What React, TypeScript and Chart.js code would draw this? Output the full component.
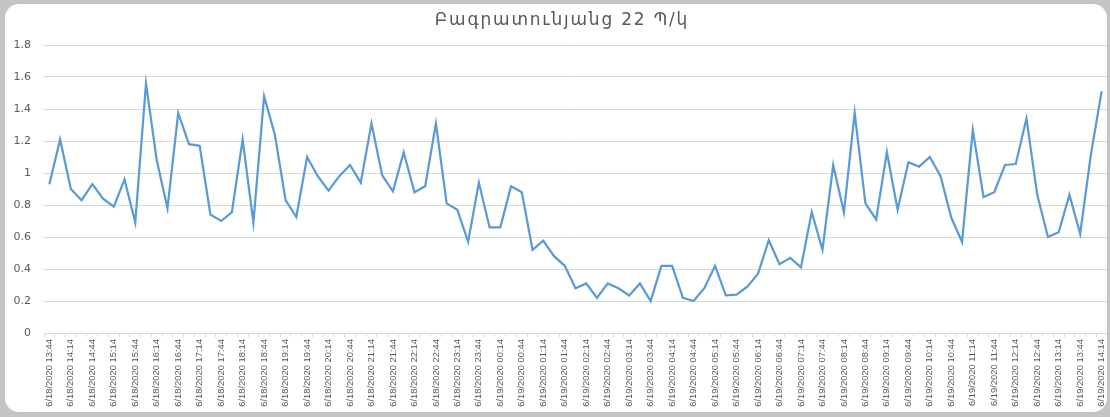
import React, { useEffect, useRef } from "react";
import { Chart, registerables } from "chart.js";

Chart.register(...registerables);

const TITLE = "Բագրատունյանց 22 Պ/կ";

// readings every 15 minutes, 6/18/2020 13:44 → 6/19/2020 14:14
const values: number[] = [
  0.93, 1.21, 0.9, 0.83, 0.93, 0.84, 0.79, 0.96, 0.69, 1.56,
  1.08, 0.78, 1.375, 1.18, 1.17, 0.74, 0.7, 0.756, 1.21, 0.69,
  1.48, 1.24, 0.83, 0.725, 1.1, 0.98, 0.89, 0.98, 1.05, 0.94,
  1.31, 0.985, 0.885, 1.13, 0.88, 0.917, 1.31, 0.81, 0.77, 0.57,
  0.94, 0.66, 0.66, 0.917, 0.88, 0.52, 0.577, 0.48, 0.42, 0.28,
  0.31, 0.22, 0.31, 0.28, 0.235, 0.31, 0.2, 0.42, 0.42, 0.22,
  0.2, 0.28, 0.42, 0.235, 0.24, 0.29, 0.37, 0.58, 0.43, 0.47,
  0.41, 0.756, 0.52, 1.05, 0.754, 1.375, 0.81, 0.71, 1.13, 0.77,
  1.067, 1.04, 1.1, 0.98, 0.72, 0.57, 1.27, 0.85, 0.88, 1.05,
  1.056, 1.34, 0.865, 0.6, 0.63, 0.865, 0.62, 1.115, 1.51,
];

// category labels (timestamps, one per reading)
const startDay = 18;
const startMinutes = 13 * 60 + 44;
const stepMinutes = 15;
const categories: string[] = values.map((_, i) => {
  const total = startMinutes + i * stepMinutes;
  const day = startDay + Math.floor(total / 1440);
  const m = total % 1440;
  const hh = String(Math.floor(m / 60)).padStart(2, "0");
  const mm = String(m % 60).padStart(2, "0");
  return `6/${day}/2020 ${hh}:${mm}`;
});

const yTicks = { min: 0, max: 1.8, step: 0.2 };

const titlePlugin = {
  id: "spacedTitle",
  afterDraw(chart: any) {
    const ctx = chart.ctx as CanvasRenderingContext2D;
    ctx.save();
    (ctx as any).letterSpacing = "1.8px";
    ctx.font = "17px 'DejaVu Sans', sans-serif";
    ctx.fillStyle = "#595959";
    ctx.textAlign = "center";
    ctx.textBaseline = "middle";
    ctx.fillText(TITLE, 557, 17);
    ctx.restore();
  },
};

export default function App() {
  const ref = useRef<HTMLCanvasElement>(null);

  useEffect(() => {
    const chart = new Chart(ref.current as HTMLCanvasElement, {
      type: "line",
      data: {
        labels: categories,
        datasets: [
          {
            data: values,
            borderColor: "#5b9bd5",
            backgroundColor: "#5b9bd5",
            borderWidth: 2.25,
            pointRadius: 0,
            tension: 0,
            fill: false,
          },
        ],
      },
      plugins: [titlePlugin],
      options: {
        responsive: false,
        animation: false,
        layout: { padding: { left: 0, right: 0, top: 41, bottom: 0 } },
        plugins: {
          legend: { display: false },
          tooltip: { enabled: false },
          title: { display: false },
        },
        scales: {
          x: {
            type: "category",
            offset: true,
            grid: {
              display: true,
              drawOnChartArea: false,
              drawTicks: true,
              tickLength: 4,
              offset: true,
              color: "#d9d9d9",
            },
            border: { display: true, color: "#d9d9d9" },
            ticks: {
              autoSkip: false,
              minRotation: 90,
              maxRotation: 90,
              padding: 2,
              color: "#595959",
              font: { family: "'Liberation Sans', Arial, sans-serif", size: 9.4 },
              callback: (_v: any, i: number) => (i % 2 === 0 ? categories[i] : ""),
            },
            afterFit: (scale: any) => {
              scale.height = 79;
              scale.paddingLeft = 0;
              scale.paddingRight = 0;
            },
          },
          y: {
            min: yTicks.min,
            max: yTicks.max,
            grid: { color: "#d9d9d9", drawTicks: false, lineWidth: 1 },
            border: { display: false },
            ticks: {
              stepSize: yTicks.step,
              padding: 13,
              color: "#595959",
              font: { family: "'DejaVu Sans', sans-serif", size: 11 },
              callback: (v: any) => String(Number(Number(v).toFixed(1))),
            },
            afterFit: (scale: any) => {
              scale.width = 39;
              scale.paddingTop = 0;
              scale.paddingBottom = 0;
            },
          },
        },
      },
    } as any);
    return () => chart.destroy();
  }, []);

  return (
    <div style={{ position: "fixed", inset: 0, background: "#c4c4c4" }}>
      <div
        style={{
          position: "absolute",
          left: 5,
          top: 4,
          width: 1102,
          height: 408,
          background: "#ffffff",
          borderRadius: 14,
          overflow: "hidden",
        }}
      >
        <canvas ref={ref} width={1102} height={408} style={{ display: "block" }} />
      </div>
    </div>
  );
}
